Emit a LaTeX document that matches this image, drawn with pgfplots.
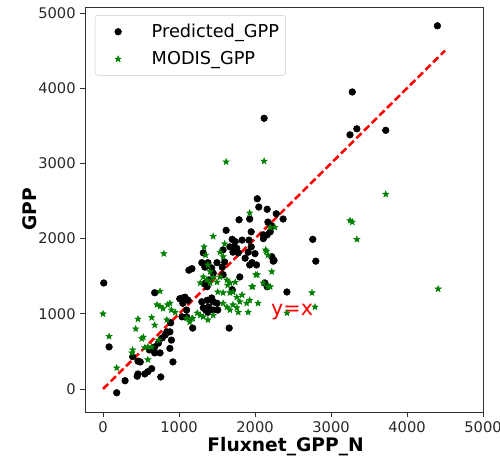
\documentclass[border=0pt]{standalone}
\usepackage{fontspec}
\setmainfont{DejaVu Sans}
\usepackage{pgfplots}
\pgfplotsset{compat=1.18}

\definecolor{mplgreen}{HTML}{008000}
\definecolor{mplred}{HTML}{FF0000}

% filled five-point star, like matplotlib's '*'
\pgfdeclareplotmark{fstar}{%
  \pgfpathmoveto{\pgfpointpolar{90}{\pgfplotmarksize}}%
  \pgfpathlineto{\pgfpointpolar{126}{0.42\pgfplotmarksize}}%
  \pgfpathlineto{\pgfpointpolar{162}{\pgfplotmarksize}}%
  \pgfpathlineto{\pgfpointpolar{198}{0.42\pgfplotmarksize}}%
  \pgfpathlineto{\pgfpointpolar{234}{\pgfplotmarksize}}%
  \pgfpathlineto{\pgfpointpolar{270}{0.42\pgfplotmarksize}}%
  \pgfpathlineto{\pgfpointpolar{306}{\pgfplotmarksize}}%
  \pgfpathlineto{\pgfpointpolar{342}{0.42\pgfplotmarksize}}%
  \pgfpathlineto{\pgfpointpolar{18}{\pgfplotmarksize}}%
  \pgfpathlineto{\pgfpointpolar{54}{0.42\pgfplotmarksize}}%
  \pgfpathclose
  \pgfusepathqfillstroke
}

\begin{document}
\begin{tikzpicture}
\begin{axis}[
    name=ax,
    scale only axis,
    width=298.5pt, height=303.75pt,
    xmin=-237, xmax=5000,
    ymin=-306, ymax=5080,
    xtick={0,1000,...,5000},
    ytick={0,1000,...,5000},
    tick align=outside, tick pos=left,
    major tick length=3.5pt,
    tick style={black!80, line width=0.6pt},
    axis line style={black!80, line width=0.6pt},
    ticklabel style={font=\fontsize{11}{13}\selectfont, text=black!85},
    /pgf/number format/assume math mode=true,
    /pgf/number format/1000 sep={},
    xlabel={Fluxnet\_GPP\_N},
    ylabel={GPP},
    label style={font=\fontsize{14}{16}\selectfont\bfseries},
    xlabel style={at={(axis description cs:0.504,-0.086)}, anchor=center},
    ylabel style={at={(axis description cs:-0.138,0.5)}, anchor=center},
    legend image code/.code={%
        \path (0pt,0pt) (37pt,0pt);
        \draw plot coordinates {(14pt,0pt)};},
    legend style={at={(0.025,0.98)}, anchor=north west,
        draw=black!20, rounded corners=2pt,
        font=\fontsize{13.3}{15}\selectfont,
        row sep=5pt, inner xsep=3pt, inner ysep=4.5pt},
    legend cell align=left,
]
% Predicted_GPP
\addplot[only marks, mark=*, mark size=2.5pt, black] coordinates {
(4400,4830) (3280,3950) (3340,3460) (3250,3380) (3720,3440) (2120,3600)
(2760,1990) (2800,1700) (2420,1290) (2280,2330) (2370,2260) (2220,2170)
(2200,2090) (2250,1710) (2030,2530) (2050,2420) (2160,2390) (1790,2250)
(1930,2260) (1950,2090) (2170,2220) (1620,2110) (1700,1990) (1740,1960)
(1830,1980) (1670,1890) (1720,1890) (1760,1870) (1710,1820) (1780,1810)
(1920,1980) (1950,1890) (1910,1820) (2110,2050) (2160,2050) (2110,2000)
(1320,1810) (2000,1800) (2220,1760) (1580,1850) (1960,1680) (2020,1650)
(2240,1700) (2130,1410) (2160,1360) (1170,1600) (1300,1680) (1340,1620)
(1380,1680) (1430,1610) (1450,1540) (1500,1680) (1570,1620) (1600,1690)
(1580,1520) (1870,1740) (1930,1650) (1800,1490) (1700,1320) (1330,1400)
(1370,1360) (1390,1450) (1080,1220) (1120,1180) (1050,1140) (1100,1050)
(1010,1200) (1050,1210) (1300,1160) (1370,1180) (1430,1210) (1450,1160)
(1500,1140) (1390,1090) (1320,1080) (1450,1050) (1510,1050) (1350,1050)
(1380,1020) (1180,810) (1660,810) (1100,960) (1040,960) (680,1280)
(10,1410) (80,560) (180,-50) (290,110) (450,170) (460,200) (550,200)
(590,230) (640,270) (760,160) (460,370) (490,360) (390,430) (610,520)
(680,560) (730,610) (680,480) (750,480) (880,540) (920,360) (780,680)
(820,720) (840,760) (880,760) (900,650) (890,880) (1130,1580)
};
\addlegendentry{Predicted\_GPP}
% MODIS_GPP
\addplot[only marks, mark=fstar, mark size=2.4pt, mplgreen] coordinates {
(1620,3020) (2120,3030) (3720,2590) (3280,2220) (3250,2240) (3340,1990)
(4410,1330) (2750,1280) (2790,1090) (2420,1010) (1930,2340) (1450,2030)
(1330,1890) (1600,1930) (2200,2150) (2260,2150) (2140,1850) (1540,1820)
(1580,1760) (2150,1830) (2010,1520) (2220,1560) (1960,1360) (2110,1410)
(2170,1360) (2040,1140) (2200,1360) (2170,1780) (1320,1490) (1370,1450)
(1280,1410) (1410,1410) (1450,1480) (1500,1420) (1540,1490) (1630,1450)
(1670,1410) (1740,1420) (1640,1380) (1580,1280) (1510,1290) (1670,1280)
(1710,1290) (1760,1220) (1830,1250) (1800,1160) (1710,1120) (1760,1080)
(1780,1020) (1890,1140) (1930,1180) (1970,1360) (2030,1520) (1910,1020)
(1450,980) (1380,920) (1320,960) (1280,980) (1240,1010) (1180,940)
(1140,890) (1100,940) (1580,1140) (1630,1090) (1670,1050) (800,1800)
(0,1000) (80,700) (180,280) (460,930) (430,800) (510,670) (530,690)
(380,480) (390,520) (590,390) (640,950) (680,850) (750,1300) (710,1120)
(750,1100) (790,1070) (850,1120) (880,1140) (900,1050) (640,560)
(730,650) (840,920) (950,1020) (550,550) (590,560) (1350,1780)
(1380,1650) (1410,1560) (1170,940)
};
\addlegendentry{MODIS\_GPP}
% y = x reference line
\addplot[mplred, line width=1.9pt, dash pattern=on 5.5pt off 2.6pt, forget plot]
  coordinates {(0,0) (4500,4500)};
\node[text=mplred, font=\fontsize{15.5}{17}\selectfont, anchor=west, inner sep=0pt]
  at (axis cs:2210,1030) {y=x};
\end{axis}
\pgfresetboundingbox
\useasboundingbox ([xshift=-63.75pt,yshift=-36.75pt]ax.south west)
  rectangle ([xshift=12.75pt,yshift=5.25pt]ax.north east);
\end{tikzpicture}
\end{document}
